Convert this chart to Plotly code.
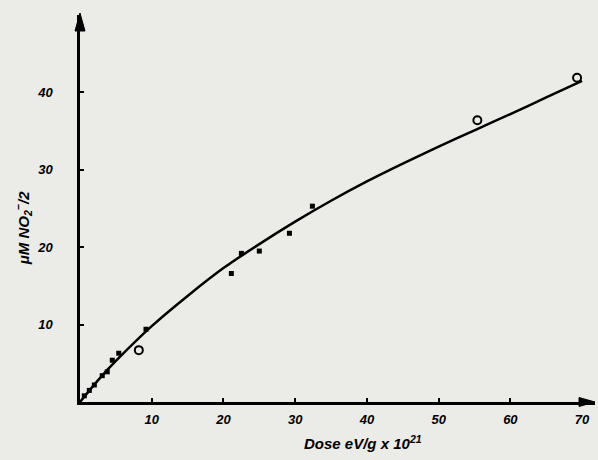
import plotly.graph_objects as go

# Measured points (open circles)
open_x = [8.2, 55.4, 69.3]
open_y = [6.7, 36.4, 41.9]
# Measured points (filled marks)
fill_x = [0.6, 1.3, 2.0, 3.1, 3.8, 4.5, 5.4, 9.2, 21.1, 22.5, 25.0, 29.2, 32.4]
fill_y = [0.8, 1.5, 2.2, 3.4, 3.9, 5.4, 6.3, 9.4, 16.6, 19.2, 19.5, 21.8, 25.3]
# Hand-drawn fitted curve
curve_x = [0, 2.5, 5, 10, 15, 20, 25, 30, 35, 40, 45, 50, 55, 60, 65, 70]
curve_y = [0, 2.8, 5.3, 9.8, 13.7, 17.3, 20.4, 23.3, 26.0, 28.5, 30.8, 33.0, 35.1, 37.2, 39.35, 41.5]

x_ticks = [10, 20, 30, 40, 50, 60, 70]
y_ticks = [10, 20, 30, 40]

bg = "#ebebe7"
font = dict(family="Liberation Sans", color="black", size=14, weight="bold", style="italic")

fig = go.Figure()
fig.add_trace(go.Scatter(x=curve_x, y=curve_y, mode="lines", line=dict(color="black", width=2.5, shape="spline", smoothing=0.8), hoverinfo="skip"))
fig.add_trace(go.Scatter(x=fill_x, y=fill_y, mode="markers", marker=dict(symbol="square", size=5, color="black")))
fig.add_trace(go.Scatter(x=open_x, y=open_y, mode="markers", marker=dict(symbol="circle-open", size=8, color="black", line=dict(width=2))))

XMAX, YMAX = 71.8, 50
fig.update_layout(
    width=598, height=460, showlegend=False,
    paper_bgcolor=bg, plot_bgcolor=bg,
    margin=dict(l=80, r=3, t=15, b=58),
    font=font,
    xaxis=dict(range=[0, XMAX], tickvals=x_ticks, showgrid=False, zeroline=False, automargin=False,
               showline=True, linecolor="black", linewidth=2.5, ticks="inside", ticklen=4,
               tickcolor="black", tickwidth=2, tickfont=dict(size=13), ticklabelstandoff=4),
    yaxis=dict(range=[0, YMAX], tickvals=y_ticks, showgrid=False, zeroline=False, automargin=False,
               showline=True, linecolor="black", linewidth=2.5, ticks="inside", ticklen=4,
               tickcolor="black", tickwidth=2, tickfont=dict(size=13), ticklabelstandoff=22),
    shapes=[
        dict(type="path", xref="paper", yref="paper", xsizemode="pixel", ysizemode="pixel",
             xanchor=0, yanchor=1, path="M -5,-16 L 0,2 L 5,-16 Z",
             fillcolor="black", line=dict(color="black", width=1)),
        dict(type="path", xref="paper", yref="paper", xsizemode="pixel", ysizemode="pixel",
             xanchor=1, yanchor=0, path="M -16,-4.5 L 0,0 L -16,4.5 Z",
             fillcolor="black", line=dict(color="black", width=1)),
    ],
    annotations=[
        dict(text="Dose eV/g x 10<sup>21</sup>", xref="paper", yref="paper", x=0.55, y=-0.075,
             xanchor="center", yanchor="top", showarrow=False, font=dict(size=15)),
        dict(text="μM NO<sub>2</sub><sup>−</sup>/2", xref="paper", yref="paper", x=-0.11, y=0.45,
             xanchor="center", yanchor="middle", textangle=-90, showarrow=False, font=dict(size=15)),
    ],
)
fig.write_html("out.html", config={"displayModeBar": False},
               post_script="document.body.style.margin='0';document.body.style.background='#ebebe7';")
